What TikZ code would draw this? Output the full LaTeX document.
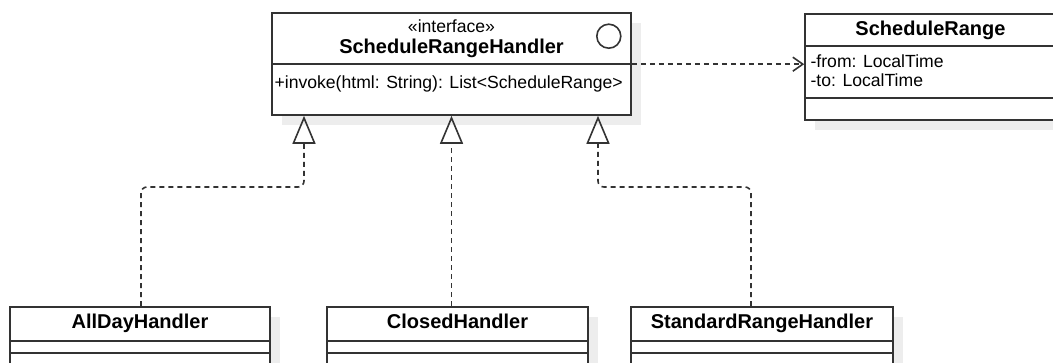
\documentclass[tikz,border=0pt]{standalone}
\usepackage{fontspec}
\setmainfont{Liberation Sans}
\usetikzlibrary{arrows.meta,fit,shadows}

\tikzset{
  umlbox/.style={draw=black!80, line width=0.8pt, fill=white, inner sep=0pt,
    drop shadow={shadow xshift=5pt, shadow yshift=-5pt, fill=black!7, opacity=1}},
  umlline/.style={draw=black!80, line width=0.8pt},
  umltitle/.style={font=\bfseries, inner sep=0pt, anchor=base},
  umltext/.style={anchor=base west, inner sep=0pt},
  realize/.style={umlline, dash pattern=on 2.5pt off 2pt, rounded corners=3pt,
    -{Triangle[open, length=14pt, width=11.5pt]}},
  depend/.style={umlline, dash pattern=on 2.5pt off 2pt,
    -{Straight Barb[length=5pt, width=7pt]}}
}

\begin{document}
\begin{tikzpicture}[x=0.5pt, y=-0.5pt, font=\fontsize{8.8}{10.5}\selectfont]
  \useasboundingbox (0,0) rectangle (1053,363);
  \clip (0,0) rectangle (1053,363);

  % interface
  \node[umlbox, fit={(272,13) (631,115)}] (hdl) {};
  \draw[umlline] ([yshift=-26pt]hdl.north west) -- ([yshift=-26pt]hdl.north east);
  \node[inner sep=0pt, anchor=base] (hdlstereo) at ([yshift=-10pt]hdl.north) {«interface»};
  \node[umltitle] (hdlname) at ([yshift=-20.5pt]hdl.north) {ScheduleRangeHandler};
  \node[umlline, circle, minimum size=12pt, inner sep=0pt] (hdlicon)
    at ([xshift=-11.5pt, yshift=-12pt]hdl.north east) {};
  \node[umltext] (hdlop) at ([xshift=1.5pt, yshift=-38pt]hdl.north west)
    {+invoke(html: String): List<ScheduleRange>};

  % value class
  \node[umlbox, fit={(805,14) (1056,120)}] (range) {};
  \draw[umlline] ([yshift=-16.5pt]range.north west) -- ([yshift=-16.5pt]range.north east);
  \draw[umlline] ([yshift=-42.5pt]range.north west) -- ([yshift=-42.5pt]range.north east);
  \node[umltitle] (rangename) at ([yshift=-11pt]range.north) {ScheduleRange};
  \node[umltext] (rangefrom) at ([xshift=3pt, yshift=-27pt]range.north west) {-from: LocalTime};
  \node[umltext] (rangeto) at ([xshift=3pt, yshift=-36.5pt]range.north west) {-to: LocalTime};

  % implementations
  \node[umlbox, fit={(10,307) (270,400)}] (allday) {};
  \node[umlbox, fit={(327,307) (588,400)}] (closed) {};
  \node[umlbox, fit={(631,307) (893,400)}] (standard) {};
  \foreach \b in {allday,closed,standard} {
    \draw[umlline] ([yshift=-17.5pt]\b.north west) -- ([yshift=-17.5pt]\b.north east);
    \draw[umlline] ([yshift=-23.5pt]\b.north west) -- ([yshift=-23.5pt]\b.north east);
  }
  \node[umltitle] (alldayname) at ([yshift=-11pt]allday.north) {AllDayHandler};
  \node[umltitle] (closedname) at ([yshift=-11pt]closed.north) {ClosedHandler};
  \node[umltitle] (standardname) at ([yshift=-11pt]standard.north) {StandardRangeHandler};

  % connectors
  \coordinate (bendl) at (304,187);
  \coordinate (bendr) at (598,187);
  \coordinate (hdlsplit) at ([yshift=-26pt]hdl.north east);
  \draw[realize] ([xshift=0.5pt]allday.north) |- (bendl) -- (bendl |- hdl.south);
  \draw[realize] (closed.north -| hdl.south) -- (hdl.south);
  \draw[realize] ([xshift=-5.5pt]standard.north) |- (bendr) -- (bendr |- hdl.south);
  \draw[depend] (hdlsplit) -- (hdlsplit -| range.west);
\end{tikzpicture}
\end{document}
